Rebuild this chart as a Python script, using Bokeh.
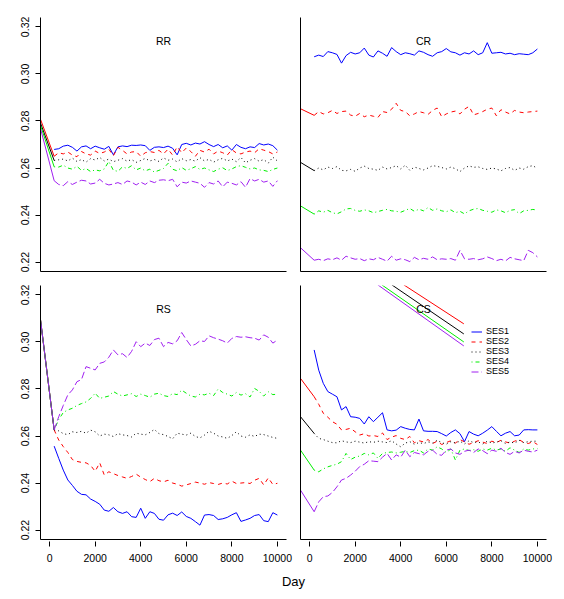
from bokeh.plotting import figure
from bokeh.layouts import column, row
from bokeh.models import Label, Legend, LegendItem, FixedTicker, NumeralTickFormatter, Range1d
from bokeh.embed import file_html
from bokeh.resources import INLINE

# ---------------- data ----------------
DAYS = list(range(200, 10001, 200))          # sampling days of the curves
START_DAY = -400                              # day of the initial values
SERIES = ["SES1", "SES2", "SES3", "SES4", "SES5"]
COLORS = ["#0000FF", "#FF0000", "#000000", "#00EE00", "#A020F0"]
DASHES = ["solid", "4 4", "1 3", "1 3 4 3", "7 3"]
X_TICKS = [0, 2000, 4000, 6000, 8000, 10000]
Y_TICKS = [0.22, 0.24, 0.26, 0.28, 0.30, 0.32]

# initial values (SES1 has none)
RR_START = [None, 0.2807, 0.2791, 0.2781, 0.2768]
CR_START = [None, 0.2852, 0.2624, 0.2439, 0.2261]
RS_START = [None, 0.3094, 0.3094, 0.3094, 0.3094]
CS_START = [None, 0.2845, 0.2682, 0.2540, 0.2370]

RR_SES1 = [0.2679, 0.2682, 0.2693, 0.2697, 0.2688, 0.2672, 0.2690, 0.2694, 0.2682, 0.2693,
           0.2686, 0.2680, 0.2692, 0.2656, 0.2690, 0.2694, 0.2691, 0.2697, 0.2696, 0.2698,
           0.2695, 0.2675, 0.2688, 0.2690, 0.2687, 0.2693, 0.2684, 0.2656, 0.2700, 0.2705,
           0.2698, 0.2706, 0.2702, 0.2712, 0.2700, 0.2691, 0.2700, 0.2686, 0.2694, 0.2676,
           0.2700, 0.2688, 0.2682, 0.2690, 0.2687, 0.2704, 0.2698, 0.2702, 0.2695, 0.2676]
RR_SES2 = [0.2650, 0.2665, 0.2660, 0.2668, 0.2655, 0.2648, 0.2670, 0.2660, 0.2655, 0.2672,
           0.2662, 0.2668, 0.2680, 0.2652, 0.2688, 0.2675, 0.2660, 0.2668, 0.2670, 0.2650,
           0.2665, 0.2670, 0.2666, 0.2675, 0.2660, 0.2680, 0.2655, 0.2690, 0.2665, 0.2685,
           0.2670, 0.2650, 0.2675, 0.2668, 0.2680, 0.2660, 0.2672, 0.2665, 0.2655, 0.2678,
           0.2664, 0.2660, 0.2668, 0.2672, 0.2665, 0.2682, 0.2676, 0.2670, 0.2660, 0.2668]
RR_SES3 = [0.2632, 0.2635, 0.2638, 0.2630, 0.2642, 0.2628, 0.2636, 0.2625, 0.2640, 0.2634,
           0.2645, 0.2630, 0.2638, 0.2627, 0.2633, 0.2640, 0.2629, 0.2636, 0.2624, 0.2632,
           0.2641, 0.2630, 0.2636, 0.2628, 0.2643, 0.2633, 0.2638, 0.2626, 0.2640, 0.2631,
           0.2636, 0.2629, 0.2644, 0.2630, 0.2637, 0.2625, 0.2635, 0.2641, 0.2630, 0.2638,
           0.2627, 0.2645, 0.2622, 0.2633, 0.2640, 0.2629, 0.2636, 0.2621, 0.2646, 0.2630]
RR_SES4 = [0.2605, 0.2604, 0.2612, 0.2600, 0.2595, 0.2607, 0.2590, 0.2598, 0.2585, 0.2592,
           0.2588, 0.2596, 0.2628, 0.2590, 0.2586, 0.2605, 0.2598, 0.2610, 0.2592, 0.2600,
           0.2588, 0.2595, 0.2583, 0.2590, 0.2598, 0.2620, 0.2595, 0.2588, 0.2602, 0.2590,
           0.2597, 0.2606, 0.2594, 0.2600, 0.2592, 0.2585, 0.2595, 0.2601, 0.2589, 0.2596,
           0.2606, 0.2610, 0.2603, 0.2596, 0.2600, 0.2592, 0.2590, 0.2585, 0.2594, 0.2600]
RR_SES5 = [0.2546, 0.2530, 0.2525, 0.2542, 0.2530, 0.2540, 0.2548, 0.2545, 0.2532, 0.2536,
           0.2552, 0.2535, 0.2528, 0.2532, 0.2538, 0.2530, 0.2545, 0.2540, 0.2528, 0.2540,
           0.2530, 0.2545, 0.2538, 0.2548, 0.2550, 0.2546, 0.2552, 0.2520, 0.2540, 0.2536,
           0.2545, 0.2540, 0.2535, 0.2518, 0.2538, 0.2532, 0.2545, 0.2520, 0.2540, 0.2535,
           0.2528, 0.2542, 0.2518, 0.2555, 0.2545, 0.2552, 0.2540, 0.2545, 0.2522, 0.2546]

CR_SES1 = [0.3073, 0.3080, 0.3074, 0.3095, 0.3090, 0.3083, 0.3046, 0.3078, 0.3092, 0.3085,
           0.3090, 0.3110, 0.3080, 0.3072, 0.3098, 0.3088, 0.3075, 0.3112, 0.3095, 0.3082,
           0.3090, 0.3086, 0.3080, 0.3098, 0.3092, 0.3082, 0.3075, 0.3090, 0.3095, 0.3108,
           0.3094, 0.3090, 0.3080, 0.3090, 0.3085, 0.3098, 0.3082, 0.3090, 0.3133, 0.3088,
           0.3090, 0.3092, 0.3085, 0.3088, 0.3082, 0.3086, 0.3084, 0.3082, 0.3090, 0.3106]
CR_SES2 = [0.2824, 0.2840, 0.2830, 0.2835, 0.2845, 0.2832, 0.2840, 0.2842, 0.2825, 0.2820,
           0.2832, 0.2818, 0.2825, 0.2820, 0.2815, 0.2840, 0.2836, 0.2850, 0.2875, 0.2845,
           0.2840, 0.2822, 0.2830, 0.2840, 0.2835, 0.2828, 0.2845, 0.2855, 0.2818, 0.2830,
           0.2838, 0.2842, 0.2830, 0.2850, 0.2862, 0.2826, 0.2832, 0.2840, 0.2850, 0.2855,
           0.2822, 0.2848, 0.2838, 0.2830, 0.2845, 0.2838, 0.2835, 0.2838, 0.2840, 0.2842]
CR_SES3 = [0.2589, 0.2600, 0.2592, 0.2604, 0.2598, 0.2606, 0.2590, 0.2588, 0.2594, 0.2586,
           0.2600, 0.2608, 0.2598, 0.2595, 0.2590, 0.2604, 0.2596, 0.2602, 0.2610, 0.2596,
           0.2612, 0.2590, 0.2604, 0.2598, 0.2592, 0.2600, 0.2610, 0.2607, 0.2602, 0.2596,
           0.2604, 0.2597, 0.2585, 0.2600, 0.2609, 0.2603, 0.2605, 0.2598, 0.2594, 0.2600,
           0.2596, 0.2588, 0.2598, 0.2602, 0.2590, 0.2600, 0.2595, 0.2606, 0.2610, 0.2598]
CR_SES4 = [0.2404, 0.2418, 0.2412, 0.2420, 0.2410, 0.2405, 0.2414, 0.2426, 0.2428, 0.2420,
           0.2416, 0.2422, 0.2418, 0.2410, 0.2415, 0.2420, 0.2424, 0.2418, 0.2416, 0.2412,
           0.2420, 0.2428, 0.2416, 0.2425, 0.2418, 0.2432, 0.2420, 0.2426, 0.2418, 0.2414,
           0.2422, 0.2410, 0.2416, 0.2405, 0.2418, 0.2425, 0.2428, 0.2420, 0.2416, 0.2412,
           0.2422, 0.2418, 0.2410, 0.2420, 0.2423, 0.2406, 0.2418, 0.2420, 0.2424, 0.2421]
CR_SES5 = [0.2208, 0.2212, 0.2206, 0.2214, 0.2210, 0.2218, 0.2208, 0.2225, 0.2218, 0.2212,
           0.2215, 0.2206, 0.2214, 0.2210, 0.2220, 0.2212, 0.2204, 0.2225, 0.2208, 0.2214,
           0.2210, 0.2202, 0.2220, 0.2210, 0.2216, 0.2212, 0.2222, 0.2210, 0.2214, 0.2212,
           0.2215, 0.2208, 0.2250, 0.2214, 0.2212, 0.2215, 0.2210, 0.2214, 0.2222, 0.2215,
           0.2206, 0.2212, 0.2205, 0.2220, 0.2214, 0.2210, 0.2206, 0.2250, 0.2240, 0.2222]

RS_SES1 = [0.2557, 0.2505, 0.2455, 0.2413, 0.2390, 0.2365, 0.2352, 0.2350, 0.2332, 0.2322,
           0.2310, 0.2285, 0.2280, 0.2296, 0.2278, 0.2271, 0.2278, 0.2257, 0.2254, 0.2293,
           0.2250, 0.2278, 0.2271, 0.2246, 0.2242, 0.2265, 0.2272, 0.2262, 0.2277, 0.2258,
           0.2250, 0.2236, 0.2221, 0.2264, 0.2266, 0.2262, 0.2245, 0.2248, 0.2254, 0.2265,
           0.2274, 0.2237, 0.2243, 0.2250, 0.2262, 0.2266, 0.2240, 0.2236, 0.2274, 0.2264]
RS_SES2 = [0.2626, 0.2583, 0.2555, 0.2530, 0.2500, 0.2492, 0.2488, 0.2486, 0.2475, 0.2450,
           0.2486, 0.2434, 0.2448, 0.2440, 0.2432, 0.2426, 0.2420, 0.2428, 0.2438, 0.2425,
           0.2415, 0.2406, 0.2420, 0.2410, 0.2405, 0.2412, 0.2400, 0.2395, 0.2387, 0.2392,
           0.2398, 0.2404, 0.2400, 0.2395, 0.2402, 0.2398, 0.2394, 0.2400, 0.2396, 0.2408,
           0.2398, 0.2400, 0.2402, 0.2398, 0.2412, 0.2420, 0.2392, 0.2422, 0.2394, 0.2399]
RS_SES3 = [0.2626, 0.2622, 0.2610, 0.2606, 0.2618, 0.2615, 0.2620, 0.2612, 0.2625, 0.2618,
           0.2600, 0.2608, 0.2605, 0.2598, 0.2610, 0.2605, 0.2602, 0.2596, 0.2612, 0.2608,
           0.2605, 0.2615, 0.2628, 0.2610, 0.2606, 0.2598, 0.2588, 0.2612, 0.2608, 0.2604,
           0.2612, 0.2598, 0.2592, 0.2604, 0.2620, 0.2612, 0.2600, 0.2596, 0.2590, 0.2602,
           0.2618, 0.2600, 0.2595, 0.2605, 0.2598, 0.2608, 0.2606, 0.2600, 0.2594, 0.2590]
RS_SES4 = [0.2626, 0.2670, 0.2700, 0.2711, 0.2718, 0.2730, 0.2738, 0.2745, 0.2760, 0.2782,
           0.2760, 0.2765, 0.2770, 0.2789, 0.2778, 0.2770, 0.2775, 0.2780, 0.2768, 0.2778,
           0.2772, 0.2765, 0.2778, 0.2782, 0.2772, 0.2768, 0.2780, 0.2776, 0.2795, 0.2782,
           0.2770, 0.2766, 0.2778, 0.2775, 0.2782, 0.2772, 0.2800, 0.2785, 0.2778, 0.2770,
           0.2785, 0.2774, 0.2780, 0.2766, 0.2802, 0.2790, 0.2770, 0.2788, 0.2776, 0.2778]
RS_SES5 = [0.2626, 0.2682, 0.2730, 0.2775, 0.2796, 0.2831, 0.2840, 0.2895, 0.2888, 0.2881,
           0.2909, 0.2915, 0.2935, 0.2966, 0.2945, 0.2950, 0.2934, 0.2960, 0.3001, 0.2980,
           0.2995, 0.2985, 0.3010, 0.3016, 0.2980, 0.2998, 0.2992, 0.3005, 0.3040, 0.3010,
           0.2983, 0.2990, 0.3005, 0.3002, 0.3026, 0.3018, 0.3012, 0.3005, 0.2995, 0.3015,
           0.3023, 0.3020, 0.3022, 0.3018, 0.3016, 0.3008, 0.3030, 0.3020, 0.2995, 0.3008]

CS_SES1 = [0.2966, 0.2880, 0.2824, 0.2789, 0.2778, 0.2767, 0.2711, 0.2725, 0.2682, 0.2680,
           0.2675, 0.2651, 0.2682, 0.2661, 0.2680, 0.2699, 0.2626, 0.2622, 0.2625, 0.2640,
           0.2633, 0.2628, 0.2626, 0.2672, 0.2622, 0.2620, 0.2620, 0.2619, 0.2610, 0.2600,
           0.2615, 0.2626, 0.2610, 0.2576, 0.2619, 0.2608, 0.2601, 0.2612, 0.2625, 0.2640,
           0.2620, 0.2601, 0.2612, 0.2619, 0.2601, 0.2604, 0.2626, 0.2627, 0.2626, 0.2626]
CS_SES2 = [0.2767, 0.2735, 0.2697, 0.2680, 0.2661, 0.2650, 0.2626, 0.2628, 0.2633, 0.2618,
           0.2604, 0.2610, 0.2600, 0.2602, 0.2598, 0.2613, 0.2585, 0.2595, 0.2602, 0.2590,
           0.2585, 0.2598, 0.2571, 0.2580, 0.2575, 0.2585, 0.2568, 0.2578, 0.2564, 0.2572,
           0.2580, 0.2570, 0.2585, 0.2575, 0.2565, 0.2572, 0.2580, 0.2574, 0.2568, 0.2578,
           0.2572, 0.2582, 0.2575, 0.2570, 0.2578, 0.2585, 0.2572, 0.2568, 0.2576, 0.2564]
CS_SES3 = [0.2611, 0.2590, 0.2585, 0.2578, 0.2572, 0.2571, 0.2580, 0.2575, 0.2572, 0.2578,
           0.2574, 0.2570, 0.2576, 0.2573, 0.2578, 0.2575, 0.2572, 0.2580, 0.2566, 0.2554,
           0.2570, 0.2576, 0.2565, 0.2572, 0.2568, 0.2575, 0.2570, 0.2582, 0.2572, 0.2565,
           0.2576, 0.2570, 0.2578, 0.2566, 0.2580, 0.2572, 0.2575, 0.2566, 0.2578, 0.2570,
           0.2574, 0.2580, 0.2568, 0.2575, 0.2570, 0.2582, 0.2572, 0.2576, 0.2578, 0.2578]
CS_SES4 = [0.2455, 0.2448, 0.2460, 0.2469, 0.2475, 0.2480, 0.2491, 0.2526, 0.2500, 0.2510,
           0.2515, 0.2526, 0.2520, 0.2528, 0.2505, 0.2526, 0.2530, 0.2532, 0.2528, 0.2531,
           0.2535, 0.2530, 0.2538, 0.2540, 0.2528, 0.2545, 0.2540, 0.2554, 0.2545, 0.2530,
           0.2545, 0.2498, 0.2540, 0.2545, 0.2538, 0.2542, 0.2535, 0.2545, 0.2540, 0.2548,
           0.2540, 0.2545, 0.2535, 0.2550, 0.2540, 0.2530, 0.2545, 0.2540, 0.2545, 0.2547]
CS_SES5 = [0.2278, 0.2320, 0.2342, 0.2345, 0.2360, 0.2384, 0.2413, 0.2420, 0.2434, 0.2450,
           0.2470, 0.2480, 0.2495, 0.2493, 0.2491, 0.2510, 0.2526, 0.2498, 0.2520, 0.2510,
           0.2540, 0.2512, 0.2530, 0.2525, 0.2520, 0.2535, 0.2540, 0.2522, 0.2518, 0.2540,
           0.2545, 0.2528, 0.2522, 0.2535, 0.2540, 0.2530, 0.2545, 0.2538, 0.2525, 0.2540,
           0.2535, 0.2548, 0.2530, 0.2522, 0.2535, 0.2528, 0.2540, 0.2535, 0.2532, 0.2540]

# straight reference strokes in the CS panel (SES2..SES5 colours)
CS_DIAG_X0 = [4130, 3605, 3165, 2990]
CS_DIAG_Y0 = [0.3243, 0.3243, 0.3243, 0.3243]
CS_DIAG_X1 = [6770, 6770, 6770, 6770]
CS_DIAG_Y1 = [0.3077, 0.3034, 0.3000, 0.2983]

PANELS = {
    "RR": ([RR_SES1, RR_SES2, RR_SES3, RR_SES4, RR_SES5], RR_START),
    "CR": ([CR_SES1, CR_SES2, CR_SES3, CR_SES4, CR_SES5], CR_START),
    "RS": ([RS_SES1, RS_SES2, RS_SES3, RS_SES4, RS_SES5], RS_START),
    "CS": ([CS_SES1, CS_SES2, CS_SES3, CS_SES4, CS_SES5], CS_START),
}
for k, (ss, st) in PANELS.items():
    for s in ss:
        assert len(s) == len(DAYS), (k, len(s))

# ---------------- drawing ----------------
FONT = "Liberation Sans"
X_RANGE = (-400, 10400)
Y_RANGE = (0.216, 0.324)
FRAME_W, FRAME_H = 246, 254


def make_panel(name, left_labels, bottom_labels, bl, br, bt, bb):
    p = figure(width=bl + FRAME_W + br, height=bt + FRAME_H + bb,
               x_range=Range1d(*X_RANGE), y_range=Range1d(*Y_RANGE),
               output_backend="svg", toolbar_location=None,
               min_border_left=bl, min_border_right=br,
               min_border_top=bt, min_border_bottom=bb)
    p.grid.visible = False
    p.outline_line_color = None
    p.background_fill_color = "white"
    p.border_fill_color = "white"

    for ax in (p.xaxis[0], p.yaxis[0]):
        ax.axis_line_color = "black"
        ax.axis_line_width = 1
        ax.minor_tick_line_color = None
        ax.major_tick_line_color = "black"
        ax.major_label_text_font = FONT
        ax.major_label_text_font_size = "10.5px"
        ax.major_label_text_color = "black"

    xa, ya = p.xaxis[0], p.yaxis[0]
    if bottom_labels:
        xa.ticker = FixedTicker(ticks=X_TICKS)
        xa.formatter = NumeralTickFormatter(format="0")
        xa.major_tick_in = -2
        xa.major_tick_out = 7
        xa.major_label_standoff = 7
    else:
        xa.ticker = FixedTicker(ticks=[])
        xa.major_tick_in = 0
        xa.major_tick_out = 0
        xa.major_label_standoff = 0
        xa.major_label_text_font_size = "1px"
    if left_labels:
        ya.ticker = FixedTicker(ticks=Y_TICKS)
        ya.formatter = NumeralTickFormatter(format="0.00")
        ya.major_label_orientation = "vertical"
        ya.major_tick_in = 0
        ya.major_tick_out = 5
        ya.major_label_standoff = 6
    else:
        ya.ticker = FixedTicker(ticks=[])
        ya.major_tick_in = 0
        ya.major_tick_out = 0
        ya.major_label_standoff = 0
        ya.major_label_text_font_size = "1px"

    series, starts = PANELS[name]
    renderers = []
    for i, vals in enumerate(series):
        if starts[i] is not None:
            p.line([START_DAY, DAYS[0]], [starts[i], vals[0]],
                   line_color=COLORS[i], line_width=1)
        r = p.line(DAYS, vals, line_color=COLORS[i], line_width=1,
                   line_dash=DASHES[i])
        renderers.append(r)

    p.add_layout(Label(x=5000, y=0.3141, text=name, text_align="center",
                       text_baseline="middle", text_font=FONT,
                       text_font_size="10.5px", text_color="black"))
    return p, renderers


p_rr, _ = make_panel("RR", True, False, 40, 7, 17, 7)
p_cr, _ = make_panel("CR", False, False, 7, 10, 17, 7)
p_rs, _ = make_panel("RS", True, True, 40, 7, 7, 32)
p_cs, cs_r = make_panel("CS", False, True, 7, 10, 7, 32)

p_cs.segment(x0=CS_DIAG_X0, y0=CS_DIAG_Y0, x1=CS_DIAG_X1, y1=CS_DIAG_Y1,
             line_color=COLORS[1:], line_width=1)

legend = Legend(items=[LegendItem(label=SERIES[i], renderers=[cs_r[i]]) for i in range(5)],
                location=(171, 163), orientation="vertical",
                label_text_font=FONT, label_text_font_size="9px",
                label_text_color="black", label_height=9, glyph_height=9,
                glyph_width=11, label_standoff=4, spacing=0, padding=0, margin=0,
                border_line_color=None, background_fill_alpha=0)
p_cs.add_layout(legend)

# outer x-axis title
p_day = figure(width=556, height=18, x_range=Range1d(0, 556), y_range=Range1d(0, 18),
               output_backend="svg", toolbar_location=None,
               x_axis_type=None, y_axis_type=None,
               min_border_left=0, min_border_right=0, min_border_top=0, min_border_bottom=0)
p_day.grid.visible = False
p_day.outline_line_color = None
p_day.add_layout(Label(x=293, y=8, text="Day", text_align="center", text_baseline="middle",
                       text_font=FONT, text_font_size="13px", text_color="black"))

layout = column(row(p_rr, p_cr), row(p_rs, p_cs), p_day)

open("out.html", "w").write(file_html(layout, INLINE))
